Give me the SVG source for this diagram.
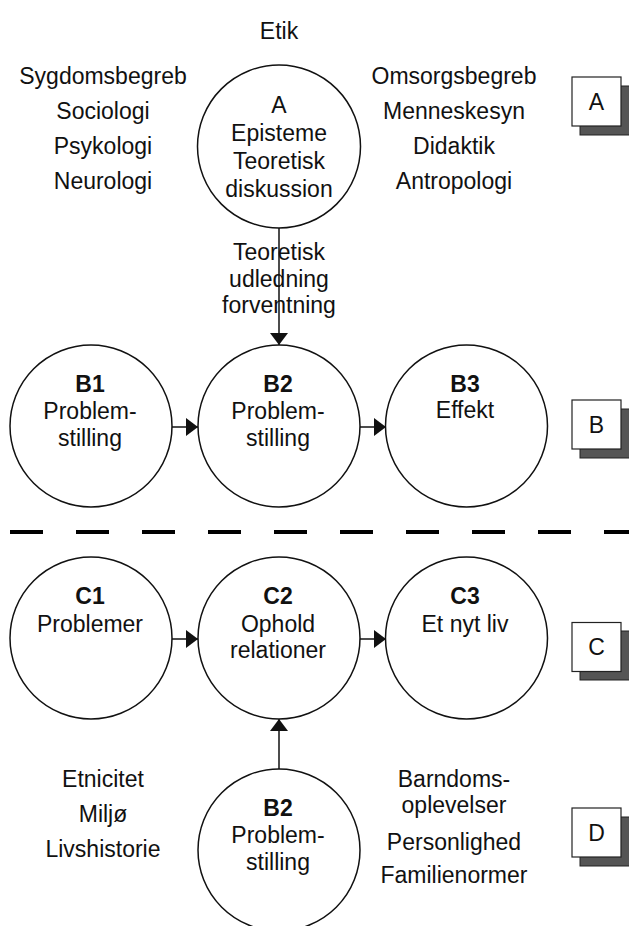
<svg xmlns="http://www.w3.org/2000/svg" width="629" height="926" viewBox="0 0 629 926">
<defs>
<style>
text{font-family:"Liberation Sans",Arial,sans-serif;font-size:23px;fill:#111;text-anchor:middle}
.b{font-weight:bold}
.c{fill:#fff;stroke:#111;stroke-width:1.5}
.ln{stroke:#111;stroke-width:1.5;fill:none}
.sh{fill:#555;stroke:#222;stroke-width:1}
.bx{fill:#fff;stroke:#222;stroke-width:1.2}
</style>
<marker id="ah" markerUnits="userSpaceOnUse" markerWidth="12" markerHeight="18" refX="12" refY="9" orient="auto">
<path d="M0,0 L12,9 L0,18 Z" fill="#111"/>
</marker>
</defs>
<rect width="629" height="926" fill="#fff"/>

<g id="labels-top">
<text x="279" y="39">Etik</text>
<text x="103" y="84">Sygdomsbegreb</text>
<text x="103" y="119">Sociologi</text>
<text x="103" y="154">Psykologi</text>
<text x="103" y="189">Neurologi</text>
<text x="454" y="84">Omsorgsbegreb</text>
<text x="454" y="119">Menneskesyn</text>
<text x="454" y="154">Didaktik</text>
<text x="454" y="189">Antropologi</text>
</g>

<g id="nodeA">
<circle class="c" cx="279" cy="146.5" r="81.5"/>
<text x="279" y="113">A</text>
<text x="279" y="141">Episteme</text>
<text x="279" y="169">Teoretisk</text>
<text x="279" y="197">diskussion</text>
</g>

<g id="edge-label">
<text x="279" y="260">Teoretisk</text>
<text x="279" y="287">udledning</text>
<text x="279" y="313">forventning</text>
</g>

<g id="nodeB1">
<circle class="c" cx="91" cy="426" r="81"/>
<text class="b" x="90" y="392">B1</text>
<text x="90" y="419">Problem-</text>
<text x="90" y="446">stilling</text>
</g>
<g id="nodeB2">
<circle class="c" cx="279" cy="426" r="81"/>
<text class="b" x="278" y="392">B2</text>
<text x="278" y="419">Problem-</text>
<text x="278" y="446">stilling</text>
</g>
<g id="nodeB3">
<circle class="c" cx="466.5" cy="426" r="81"/>
<text class="b" x="465" y="392">B3</text>
<text x="465" y="418">Effekt</text>
</g>

<line x1="8" y1="532" x2="629" y2="532" stroke="#000" stroke-width="4" stroke-dasharray="33 33" stroke-dashoffset="-2"/>

<g id="nodeC1">
<circle class="c" cx="91" cy="638" r="81"/>
<text class="b" x="90" y="604">C1</text>
<text x="90" y="632">Problemer</text>
</g>
<g id="nodeC2">
<circle class="c" cx="279" cy="638" r="81"/>
<text class="b" x="278" y="604">C2</text>
<text x="278" y="632">Ophold</text>
<text x="278" y="658">relationer</text>
</g>
<g id="nodeC3">
<circle class="c" cx="466.5" cy="638" r="81"/>
<text class="b" x="465" y="604">C3</text>
<text x="465" y="632">Et nyt liv</text>
</g>

<g id="nodeB2b">
<circle class="c" cx="279" cy="850" r="81"/>
<text class="b" x="278" y="816">B2</text>
<text x="278" y="843">Problem-</text>
<text x="278" y="870">stilling</text>
</g>

<g id="labels-bottom">
<text x="103" y="787">Etnicitet</text>
<text x="103" y="822">Miljø</text>
<text x="103" y="857">Livshistorie</text>
<text x="454" y="787">Barndoms-</text>
<text x="454" y="813">oplevelser</text>
<text x="454" y="850">Personlighed</text>
<text x="454" y="883">Familienormer</text>
</g>

<g id="boxA"><rect class="sh" x="580" y="86" width="50" height="49"/><rect class="bx" x="572" y="77" width="49" height="49"/><text x="596.5" y="110">A</text></g>
<g id="boxB"><rect class="sh" x="580" y="409" width="50" height="49"/><rect class="bx" x="572" y="400" width="49" height="49"/><text x="596.5" y="433">B</text></g>
<g id="boxC"><rect class="sh" x="580" y="631" width="50" height="49"/><rect class="bx" x="572" y="622.5" width="49" height="49"/><text x="596.5" y="655">C</text></g>
<g id="boxD"><rect class="sh" x="580" y="817" width="50" height="49"/><rect class="bx" x="572" y="808" width="49" height="49"/><text x="596.5" y="841">D</text></g>

<g id="connectors">
<line class="ln" x1="279" y1="228" x2="279" y2="345" marker-end="url(#ah)"/>
<line class="ln" x1="172" y1="427" x2="198" y2="427" marker-end="url(#ah)"/>
<line class="ln" x1="360" y1="427" x2="386" y2="427" marker-end="url(#ah)"/>
<line class="ln" x1="172" y1="639" x2="198" y2="639" marker-end="url(#ah)"/>
<line class="ln" x1="360" y1="639" x2="386" y2="639" marker-end="url(#ah)"/>
<line class="ln" x1="279" y1="769" x2="279" y2="719" marker-end="url(#ah)"/>
</g>
</svg>
